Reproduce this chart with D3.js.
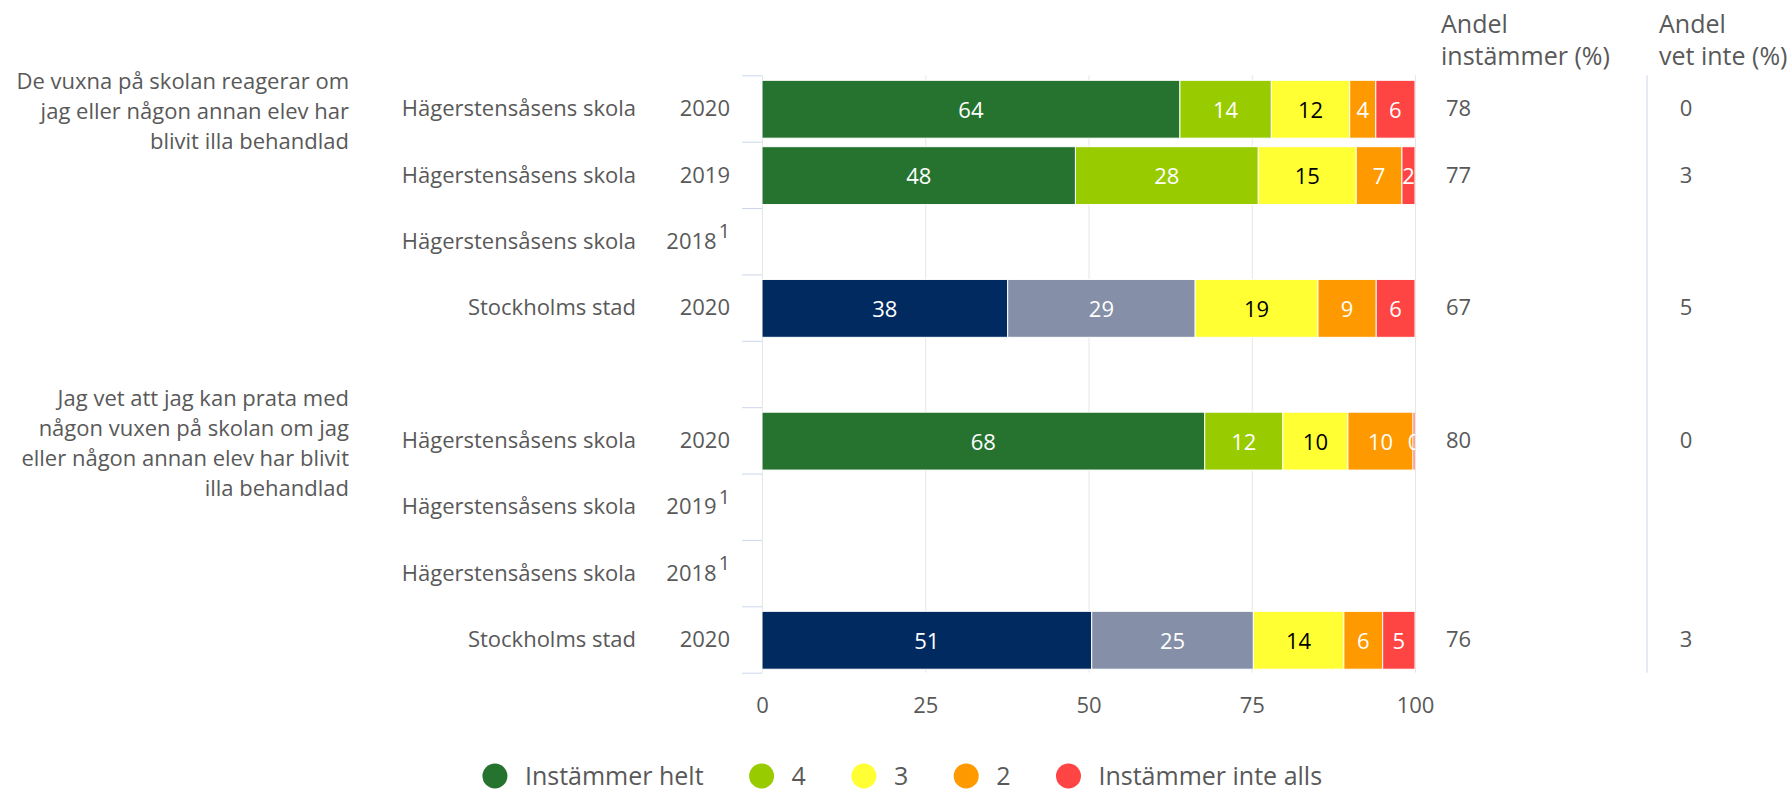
<html>

<head>
  <title>Illa behandlad</title>
  <script type="text/javascript" src="https://cdn.jsdelivr.net/npm/d3@7"></script>

  <style type="text/css">
    body {
      margin: 0;
      background: #fff;
    }
    text {
      font-family: "Open Sans", Lato, sans-serif;
      fill: #595959;
    }
    .grid line {
      stroke: #e6e6e6;
    }
    .rowticks line {
      stroke: #ccd6eb;
    }
    .big {
      font-size: 25px;
    }
  </style>
</head>

<body>
  <script>
  // Width and height
  const w = 1789;
  const h = 792;
  const fontSize = 22;

  // Questions (line breaks as in the original)
  const questions = [
    ["De vuxna på skolan reagerar om", "jag eller någon annan elev har", "blivit illa behandlad"],
    ["Jag vet att jag kan prata med", "någon vuxen på skolan om jag", "eller någon annan elev har blivit", "illa behandlad"]
  ];
  const questionRows = [0, 5];

  // Rows (index 4 is the empty spacer row)
  const rowUnits = ["Hägerstensåsens skola", "Hägerstensåsens skola", "Hägerstensåsens skola", "Stockholms stad", null,
                    "Hägerstensåsens skola", "Hägerstensåsens skola", "Hägerstensåsens skola", "Stockholms stad"];
  const rowYears = ["2020", "2019", "2018", "2020", null, "2020", "2019", "2018", "2020"];
  const rowNotes = ["", "", "1", "", null, "", "1", "1", ""];

  // Series
  const seriesNames = ["Instämmer helt", "4", "3", "2", "Instämmer inte alls"];
  const instammerHelt = [64, 48, null, 38, null, 68, null, null, 51];
  const fyra          = [14, 28, null, 29, null, 12, null, null, 25];
  const tre           = [12, 15, null, 19, null, 10, null, null, 14];
  const tva           = [4, 7, null, 9, null, 10, null, null, 6];
  const instammerInte = [6, 2, null, 6, null, 0.3, null, null, 5];
  const seriesValues = [instammerHelt, fyra, tre, tva, instammerInte];

  const andelInstammer = [78, 77, null, 67, null, 80, null, null, 76];
  const andelVetInte = [0, 3, null, 5, null, 0, null, null, 3];

  const xTicks = [0, 25, 50, 75, 100];

  const schoolColors = ["#267330", "#99cc00", "#ffff33", "#ff9900", "#ff4444"];
  const cityColors = ["#002a60", "#858fa8", "#ffff33", "#ff9900", "#ff4444"];

  // Scales
  const xScale = d3.scaleLinear().domain([0, 100]).range([762, 1415]);
  const yScale = d3.scaleBand().domain(d3.range(rowUnits.length)).range([75.3, 672.7]);
  const yEdge = d3.scaleLinear().domain([0, rowUnits.length]).range([75.3, 672.7]);

  const svg = d3.select("body")
    .append("svg")
    .attr("width", w)
    .attr("height", h)
    .style("font-size", fontSize + "px");

  // Gridlines
  svg.append("g")
    .attr("class", "grid")
    .attr("transform", "translate(0,672.7)")
    .call(d3.axisBottom(xScale).tickValues(xTicks).tickSize(-(672.7 - 75.3)).tickFormat(""))
    .call(g => g.select(".domain").remove());

  // Row boundary ticks
  svg.append("g")
    .attr("class", "rowticks")
    .attr("transform", "translate(762,0)")
    .call(d3.axisLeft(yEdge).tickValues(d3.range(rowUnits.length + 1)).tickSize(20).tickFormat(""))
    .call(g => g.select(".domain").remove());

  // Stacked bars (percent)
  const stacks = rowUnits.map(function(u, i) {
    if (instammerHelt[i] == null) return [];
    const vals = seriesValues.map(s => s[i]);
    const total = d3.sum(vals);
    let acc = 0;
    const colors = u === "Stockholms stad" ? cityColors : schoolColors;
    return vals.map(function(v, k) {
      const seg = { row: i, v: v, x0: acc / total * 100, x1: (acc + v) / total * 100, color: colors[k] };
      acc += v;
      return seg;
    });
  });
  const segs = stacks.flat();

  svg.append("clipPath").attr("id", "plot")
    .append("rect").attr("x", 762).attr("y", 70).attr("width", 653).attr("height", 610);

  const bars = svg.append("g").attr("clip-path", "url(#plot)");

  bars.selectAll("rect")
    .data(segs)
    .enter()
    .append("rect")
    .attr("x", d => xScale(d.x0))
    .attr("y", d => yScale(d.row) + 5)
    .attr("width", d => xScale(d.x1) - xScale(d.x0))
    .attr("height", yScale.bandwidth() - 8.5)
    .attr("fill", d => d.color)
    .attr("stroke", "#fff")
    .attr("stroke-width", 1);

  bars.selectAll("text")
    .data(segs)
    .enter()
    .append("text")
    .attr("x", d => (xScale(d.x0) + xScale(d.x1)) / 2)
    .attr("y", d => yScale(d.row) + yScale.bandwidth() / 2 + 0.5)
    .attr("text-anchor", "middle")
    .attr("dominant-baseline", "central")
    .style("fill", d => d.color === "#ffff33" ? "#000" : "#fff")
    .text(d => Math.round(d.v));

  // X axis labels
  svg.append("g")
    .attr("transform", "translate(0,694)")
    .call(d3.axisBottom(xScale).tickValues(xTicks).tickSize(0))
    .attr("font-size", null)
    .attr("font-family", null)
    .call(g => g.select(".domain").remove())
    .selectAll("text")
    .attr("fill", null)
    .attr("dy", "0.72em");

  // Row labels
  const rows = d3.range(rowUnits.length).filter(i => rowUnits[i] != null);

  svg.selectAll(".unit")
    .data(rows)
    .enter()
    .append("text")
    .attr("class", "unit")
    .attr("x", 636)
    .attr("y", i => yScale(i) + yScale.bandwidth() / 2)
    .attr("dy", "0.35em")
    .attr("text-anchor", "end")
    .text(i => rowUnits[i]);

  const years = svg.selectAll(".year")
    .data(rows)
    .enter()
    .append("text")
    .attr("class", "year")
    .attr("x", 730)
    .attr("y", i => yScale(i) + yScale.bandwidth() / 2)
    .attr("dy", "0.35em")
    .attr("text-anchor", "end");
  years.append("tspan").text(i => rowYears[i]);
  years.filter(i => rowNotes[i])
    .append("tspan")
    .attr("dx", 2)
    .attr("dy", "-0.55em")
    .style("font-size", "0.9em")
    .text(i => rowNotes[i]);

  // Question labels
  questions.forEach(function(lines, q) {
    const cy = yScale(questionRows[q]) + yScale.bandwidth() / 2 + 3;
    const lh = 30;
    svg.append("text")
      .attr("text-anchor", "end")
      .selectAll("tspan")
      .data(lines)
      .enter()
      .append("tspan")
      .attr("x", 349)
      .attr("y", (d, k) => cy + (k - (lines.length - 1) / 2) * lh)
      .attr("dy", "0.35em")
      .text(d => d);
  });

  // Right columns
  svg.append("line")
    .attr("x1", 1647).attr("x2", 1647)
    .attr("y1", 75.3).attr("y2", 672.7)
    .attr("stroke", "#ccd6eb");

  [["Andel", "instämmer (%)", 1441], ["Andel", "vet inte (%)", 1659]].forEach(function(hd) {
    svg.append("text").attr("class", "big").attr("x", hd[2]).attr("y", 33).text(hd[0]);
    svg.append("text").attr("class", "big").attr("x", hd[2]).attr("y", 65).text(hd[1]);
  });

  svg.selectAll(".andel")
    .data(rows.filter(i => andelInstammer[i] != null))
    .enter()
    .append("text")
    .attr("x", 1446)
    .attr("y", i => yScale(i) + yScale.bandwidth() / 2)
    .attr("dy", "0.35em")
    .text(i => andelInstammer[i]);

  svg.selectAll(".vetinte")
    .data(rows.filter(i => andelVetInte[i] != null))
    .enter()
    .append("text")
    .attr("x", 1686)
    .attr("y", i => yScale(i) + yScale.bandwidth() / 2)
    .attr("dy", "0.35em")
    .attr("text-anchor", "middle")
    .text(i => andelVetInte[i]);

  // Legend
  const legendY = 776;
  const legend = svg.append("g");
  const items = legend.selectAll("g")
    .data(seriesNames)
    .enter()
    .append("g");
  items.append("circle").attr("r", 12.5).attr("cy", 0).attr("fill", (d, k) => schoolColors[k]);
  items.append("text").attr("class", "big").attr("x", 30).attr("dy", "0.35em").text(d => d);

  let lx = 0;
  items.each(function() {
    const g = d3.select(this);
    const tw = g.select("text").node().getComputedTextLength();
    g.attr("transform", "translate(" + (lx + 12.5) + ",0)");
    lx += 25 + 5 + tw + 58;
  });
  lx -= 58;
  legend.attr("transform", "translate(" + (896 - lx / 2) + "," + legendY + ")");
  </script>
</body>

</html>
